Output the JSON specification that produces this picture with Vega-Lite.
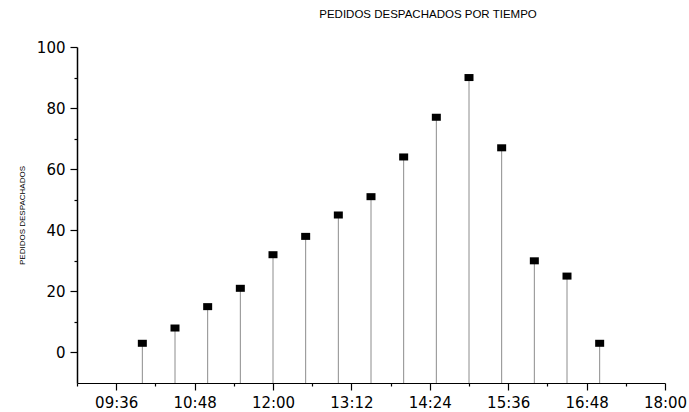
{
  "$schema": "https://vega.github.io/schema/vega-lite/v6.json",
  "width": 588,
  "height": 336,
  "autosize": "none",
  "padding": {"left": 77, "top": 47, "right": 24, "bottom": 29},
  "background": "white",
  "config": {"font": "Liberation Sans", "view": {"stroke": null}},
  "title": {
    "text": "PEDIDOS DESPACHADOS POR TIEMPO",
    "fontSize": 11.5,
    "fontWeight": "normal",
    "color": "black",
    "anchor": "middle",
    "dx": 57,
    "offset": 20
  },
  "data": {
    "values": [
      {"time": "2024-01-01T10:00:00Z", "pedidos": 3},
      {"time": "2024-01-01T10:30:00Z", "pedidos": 8},
      {"time": "2024-01-01T11:00:00Z", "pedidos": 15},
      {"time": "2024-01-01T11:30:00Z", "pedidos": 21},
      {"time": "2024-01-01T12:00:00Z", "pedidos": 32},
      {"time": "2024-01-01T12:30:00Z", "pedidos": 38},
      {"time": "2024-01-01T13:00:00Z", "pedidos": 45},
      {"time": "2024-01-01T13:30:00Z", "pedidos": 51},
      {"time": "2024-01-01T14:00:00Z", "pedidos": 64},
      {"time": "2024-01-01T14:30:00Z", "pedidos": 77},
      {"time": "2024-01-01T15:00:00Z", "pedidos": 90},
      {"time": "2024-01-01T15:30:00Z", "pedidos": 67},
      {"time": "2024-01-01T16:00:00Z", "pedidos": 30},
      {"time": "2024-01-01T16:30:00Z", "pedidos": 25},
      {"time": "2024-01-01T17:00:00Z", "pedidos": 3}
    ]
  },
  "encoding": {
    "x": {
      "field": "time",
      "type": "temporal",
      "scale": {
        "type": "utc",
        "domain": [
          {"year": 2024, "month": 1, "date": 1, "hours": 9, "minutes": 0, "utc": true},
          {"year": 2024, "month": 1, "date": 1, "hours": 18, "minutes": 0, "utc": true}
        ],
        "nice": false
      },
      "axis": {
        "title": null,
        "grid": false,
        "domain": true,
        "values": [
          {"year": 2024, "month": 1, "date": 1, "hours": 9, "minutes": 0, "utc": true},
          {"year": 2024, "month": 1, "date": 1, "hours": 9, "minutes": 36, "utc": true},
          {"year": 2024, "month": 1, "date": 1, "hours": 10, "minutes": 12, "utc": true},
          {"year": 2024, "month": 1, "date": 1, "hours": 10, "minutes": 48, "utc": true},
          {"year": 2024, "month": 1, "date": 1, "hours": 11, "minutes": 24, "utc": true},
          {"year": 2024, "month": 1, "date": 1, "hours": 12, "minutes": 0, "utc": true},
          {"year": 2024, "month": 1, "date": 1, "hours": 12, "minutes": 36, "utc": true},
          {"year": 2024, "month": 1, "date": 1, "hours": 13, "minutes": 12, "utc": true},
          {"year": 2024, "month": 1, "date": 1, "hours": 13, "minutes": 48, "utc": true},
          {"year": 2024, "month": 1, "date": 1, "hours": 14, "minutes": 24, "utc": true},
          {"year": 2024, "month": 1, "date": 1, "hours": 15, "minutes": 0, "utc": true},
          {"year": 2024, "month": 1, "date": 1, "hours": 15, "minutes": 36, "utc": true},
          {"year": 2024, "month": 1, "date": 1, "hours": 16, "minutes": 12, "utc": true},
          {"year": 2024, "month": 1, "date": 1, "hours": 16, "minutes": 48, "utc": true},
          {"year": 2024, "month": 1, "date": 1, "hours": 17, "minutes": 24, "utc": true},
          {"year": 2024, "month": 1, "date": 1, "hours": 18, "minutes": 0, "utc": true}
        ],
        "labelExpr": "(utchours(datum.value)*60 + utcminutes(datum.value)) % 72 == 0 ? utcFormat(datum.value, '%H:%M') : ''",
        "tickSize": {"condition": {"test": "(utchours(datum.value)*60 + utcminutes(datum.value)) % 72 == 0", "value": 7}, "value": 3},
        "labelFont": "DejaVu Sans",
        "labelFontSize": 15,
        "labelColor": "black",
        "labelPadding": 5,
        "labelFlush": false,
        "labelOverlap": false,
        "domainColor": "black",
        "domainWidth": 1.2,
        "tickColor": "black",
        "tickWidth": 1.2
      }
    },
    "y": {
      "field": "pedidos",
      "type": "quantitative",
      "scale": {"domain": [-10, 100], "nice": false, "zero": false},
      "axis": {
        "title": "PEDIDOS DESPACHADOS",
        "titleFontSize": 8,
        "titleFontWeight": "normal",
        "titleColor": "black",
        "titleAngle": 270,
        "titleAlign": "center",
        "titleBaseline": "middle",
        "titleX": -55,
        "titleY": 168,
        "grid": false,
        "domain": true,
        "domainOpacity": 1,
        "values": [0, 10, 20, 30, 40, 50, 60, 70, 80, 90, 100],
        "labelExpr": "datum.value % 20 == 0 ? datum.label : ''",
        "tickSize": {"condition": {"test": "datum.value % 20 == 0", "value": 7}, "value": 3},
        "labelFont": "DejaVu Sans",
        "labelFontSize": 15,
        "labelColor": "black",
        "labelPadding": 5,
        "labelFlush": false,
        "labelOverlap": false,
        "domainColor": "#000000",
        "domainWidth": 1.5,
        "tickColor": "black",
        "tickWidth": 1.2
      }
    }
  },
  "layer": [
    {
      "mark": {"type": "rule", "color": "#8c8c8c", "strokeWidth": 1},
      "encoding": {"y2": {"datum": -10}}
    },
    {
      "mark": {
        "type": "point",
        "shape": "M-1,-0.78H1V0.78H-1Z",
        "filled": true,
        "color": "black",
        "opacity": 1,
        "size": 81
      }
    }
  ]
}
